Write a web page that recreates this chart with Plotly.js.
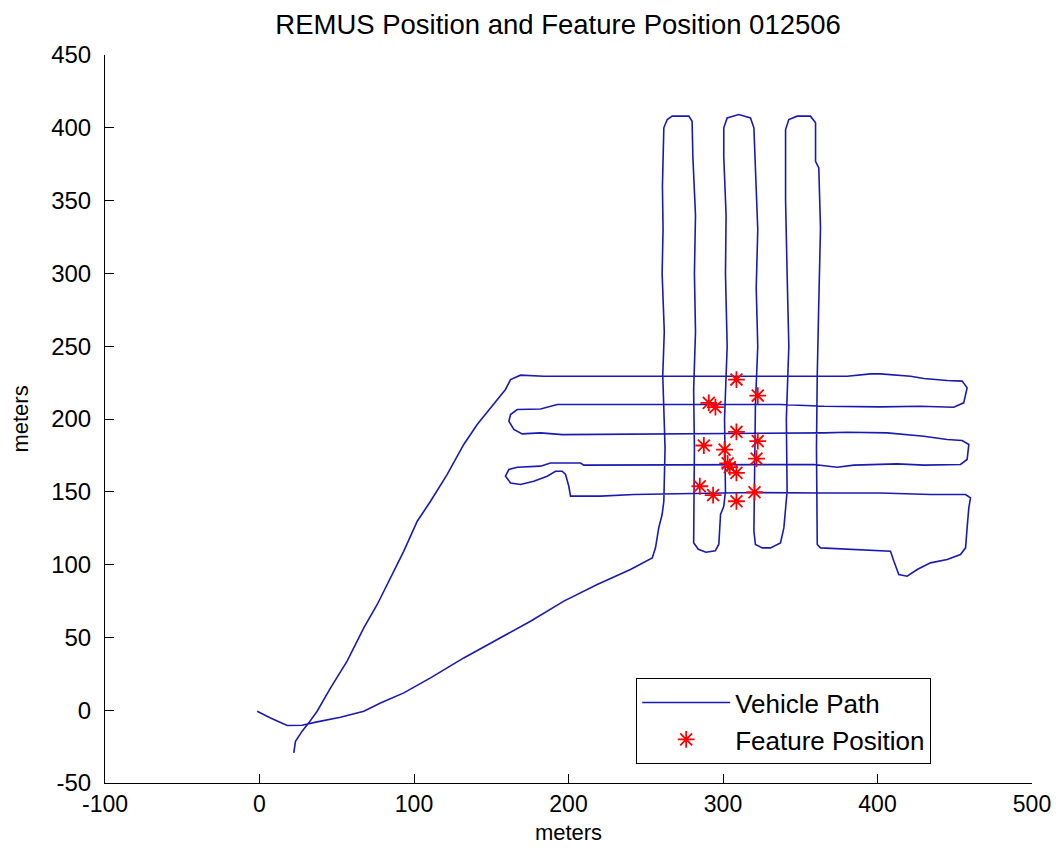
<!DOCTYPE html>
<html>
<head>
<meta charset="utf-8">
<script src="https://cdn.plot.ly/plotly-3.0.1.min.js"></script>
<style>
html,body{margin:0;padding:0;background:#fff;}
#chart{width:1059px;height:857px;}
</style>
</head>
<body>
<div id="chart"></div>
<script>
// Vehicle path (meters)
const pathX = [
  -1.5, 7.1, 17.9, 27.6, 37.3, 52.4, 67.5, 78.3, 93.4, 110.7, 132.2, 153.9, 175.4, 197.0, 218.6, 240.1, 254.2, 256.3, 258.4, 260.6, 261.7,
  262.5, 261.0, 262.0, 260.6, 261.2, 260.8, 261.7, 263.9, 267.1, 277.9, 280.0,
  280.5, 282.2, 281.5, 282.2, 281.0, 281.5, 281.0, 281.0, 284.0, 289.0, 295.0, 297.3, 298.4, 300.5, 301.6,
  301.0, 302.7, 301.6, 302.0, 300.5, 300.5, 302.7, 310.2, 317.8, 320.0,
  321.0, 322.5, 321.5, 322.5, 321.0, 320.5, 320.0, 321.0, 325.4, 330.7, 337.2, 339.4, 341.5,
  341.0, 342.6, 341.5, 340.5, 340.5, 342.6, 348.0, 356.6, 359.9,
  359.9, 362.0, 363.1, 362.0, 361.0, 360.5, 361.0, 361.0, 363.1, 389.0, 408.4, 410.6, 413.8, 419.2, 425.7, 434.3, 445.1, 453.7, 457.0, 458.0, 459.1, 460.2, 457.0,
  434.3, 401.9, 363.0, 320.0, 280.0, 242.3, 220.7, 201.3, 200.2, 198.1, 195.9, 191.6, 186.2, 177.5, 168.9, 162.5, 159.2, 161.4, 166.8, 181.9, 188.3, 207.8, 209.9,
  260.0, 337.2, 358.8, 373.9, 384.7, 412.7, 430.0, 453.7, 458.0, 459.1, 454.8, 445.1, 430.0, 406.3, 380.4, 365.3,
  300.0, 250.0, 195.9, 181.9, 170.0, 164.6, 161.4, 162.5, 166.8, 181.9, 192.7,
  260.0, 337.2, 365.3, 401.9, 427.8, 449.3, 455.8, 458.0, 454.8, 445.1, 430.0, 421.4, 401.9, 395.5, 380.4,
  300.0, 240.0, 184.0, 168.9, 162.5, 159.2, 154.9, 149.5,
  140.9, 132.2, 121.5, 110.7, 102.1, 93.4, 84.8, 76.2, 67.5, 56.7, 46.0, 37.3, 31.9, 27.6, 23.3, 22.2
];
const pathY = [
  -0.7, -5.3, -10.5, -10.3, -8.0, -4.8, -0.7, 5.0, 11.9, 22.2, 35.9, 48.6, 61.1, 74.9, 86.3, 96.6, 104.6, 111.5, 125.2, 134.4, 143.5,
  180.0, 230.0, 260.0, 300.0, 330.0, 360.0, 400.0, 405.7, 408.0, 408.0, 404.5,
  380.0, 340.0, 300.0, 260.0, 220.0, 180.0, 140.0, 115.0, 110.5, 108.5, 109.5, 114.0, 134.4, 140.0, 150.4,
  200.0, 250.0, 300.0, 340.0, 380.0, 400.0, 406.8, 409.1, 406.8, 400.0,
  370.0, 330.0, 290.0, 250.0, 210.0, 170.0, 123.0, 113.8, 111.5, 111.5, 114.9, 125.2, 150.4,
  200.0, 250.0, 300.0, 350.0, 398.8, 405.7, 408.0, 408.0, 403.4,
  377.0, 372.5, 331.2, 280.0, 230.0, 180.0, 140.0, 113.8, 111.5, 110.4, 109.2, 102.3, 93.2, 92.0, 96.6, 101.2, 103.5, 106.9, 111.5, 125.2, 138.9, 145.8, 148.1,
  148.1, 149.2, 149.2, 149.5, 148.8, 148.1, 147.0, 147.0, 153.8, 161.9, 164.1, 164.1, 160.7, 157.3, 155.0, 156.1, 160.7, 165.3, 166.9, 167.6, 169.8, 169.8, 168.3,
  168.5, 168.8, 168.8, 166.9, 168.3, 169.2, 168.3, 168.8, 172.2, 182.5, 185.2, 185.9, 188.2, 190.5, 190.9, 190.5,
  190.0, 189.5, 189.3, 190.5, 189.8, 192.8, 198.5, 203.1, 206.5, 206.9, 210.0,
  210.0, 210.0, 208.8, 208.3, 208.8, 208.1, 211.1, 221.4, 226.0, 226.4, 227.8, 229.4, 231.0, 231.0, 229.4,
  229.4, 229.4, 229.4, 230.1, 227.1, 220.3, 214.5, 207.6,
  196.2, 182.5, 161.9, 143.5, 129.8, 109.2, 90.9, 72.6, 56.5, 33.7, 15.3, -0.7, -8.7, -14.4, -21.3, -29.3
];

// Feature positions (meters)
const featX = [308.7, 322.5, 290.8, 295.1, 308.7, 322.5, 287.6, 301.0, 321.7, 304.4, 303.0, 308.7, 285.0, 293.6, 308.7, 320.4];
const featY = [227.1, 216.1, 211.1, 208.1, 191.1, 184.8, 181.8, 179.0, 172.8, 166.9, 169.5, 163.0, 153.8, 147.7, 143.5, 149.7];

const xTicks = [-100, 0, 100, 200, 300, 400, 500];
const yTicks = [-50, 0, 50, 100, 150, 200, 250, 300, 350, 400, 450];

const FONT = '"Liberation Sans", Arial, sans-serif';

const traces = [
  {
    x: pathX, y: pathY, type: 'scatter', mode: 'lines', name: 'Vehicle Path',
    line: {color: '#1a1ab0', width: 1.6}
  },
  {
    x: featX, y: featY, type: 'scatter', mode: 'markers', name: 'Feature Position',
    marker: {symbol: 'asterisk-open', size: 14, color: '#ff0000', line: {color: '#ff0000', width: 1.8}}
  }
];

const layout = {
  width: 1059, height: 857,
  margin: {l: 105, r: 27, t: 55, b: 74},
  paper_bgcolor: '#ffffff', plot_bgcolor: '#ffffff',
  font: {family: FONT, color: '#000000', size: 24},
  title: {text: 'REMUS Position and Feature Position 012506', font: {family: FONT, size: 27.5, color: '#000'}, x: 0.527, xanchor: 'center', y: 0.972, yanchor: 'middle'},
  showlegend: true,
  legend: {
    x: 0.573, y: 0.144, xanchor: 'left', yanchor: 'top',
    bgcolor: '#ffffff', bordercolor: '#000000', borderwidth: 1,
    font: {family: FONT, size: 26, color: '#000'},
    itemwidth: 88, tracegroupgap: 0
  },
  xaxis: {
    range: [-100, 500], tickvals: xTicks, ticktext: xTicks.map(String),
    showline: true, linecolor: '#000', linewidth: 1, mirror: false,
    ticks: 'inside', ticklen: 9, tickcolor: '#000', showgrid: false, zeroline: false,
    tickfont: {family: FONT, size: 23, color: '#000'},
    title: {text: 'meters', font: {family: FONT, size: 22, color: '#000'}, standoff: 9}
  },
  yaxis: {
    range: [-50, 450], tickvals: yTicks, ticktext: yTicks.map(String),
    showline: true, linecolor: '#000', linewidth: 1, mirror: false,
    ticks: 'inside', ticklen: 9, tickcolor: '#000', showgrid: false, zeroline: false,
    ticklabelstandoff: 8,
    tickfont: {family: FONT, size: 24, color: '#000'},
    title: {text: 'meters', font: {family: FONT, size: 22, color: '#000'}, standoff: 16}
  }
};

Plotly.newPlot('chart', traces, layout, {displayModeBar: false, staticPlot: true});
</script>
</body>
</html>
